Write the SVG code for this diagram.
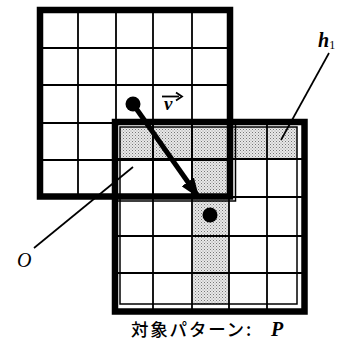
<svg xmlns="http://www.w3.org/2000/svg" width="349" height="349" viewBox="0 0 349 349">
<defs>
<pattern id="dots" width="3" height="3" patternUnits="userSpaceOnUse">
<rect width="3" height="3" fill="#e8e8e8"/>
<rect x="0" y="0" width="1" height="1" fill="#777"/>
<rect x="1.5" y="1.5" width="1" height="1" fill="#999"/>
</pattern>
<marker id="ah" markerWidth="4" markerHeight="3" refX="3.2" refY="1.5" orient="auto" markerUnits="strokeWidth">
<path d="M0,0 L4,1.5 L0,3 Z" fill="#000"/>
</marker>
</defs>
<style>
.grid{stroke:#000;stroke-width:1.8;fill:none}
.frame{stroke:#000;stroke-width:6.5;fill:none}
.thin{stroke:#000;stroke-width:1.5;fill:none}
.shade{fill:url(#dots);stroke:none}
.lead{stroke:#000;stroke-width:1.7;fill:none}
.lbl{font-family:"Liberation Serif",serif;font-style:italic;fill:#000}
</style>
<rect width="349" height="349" fill="#fff"/>

<g id="pattern-P">
<rect class="shade" x="120" y="127" width="177" height="32"/>
<rect class="shade" x="192" y="159" width="37" height="145"/>
<path class="grid" d="M153,122V311 M192,122V311 M229,122V311 M267,122V311 M115,159H304 M115,197H304 M115,236H304 M115,273H304"/>
<rect class="thin" x="120" y="127" width="177" height="177"/>
<rect class="frame" x="115" y="122" width="189.5" height="189.5"/>
</g>

<g id="window-O">
<path class="grid" d="M78,10V197 M116,10V197 M153,10V197 M192,10V197 M40,48H230 M40,85H230 M40,123H230 M40,160H230"/>
<rect class="frame" x="40" y="10" width="190" height="186.5"/>
<path class="thin" d="M118,201H235.5V125"/>
</g>

<g id="connectors">
<path class="lead" d="M34,248L133,167"/>
<path class="lead" d="M329,53L281,140"/>
<circle cx="133" cy="104" r="7.5" fill="#000"/>
<path d="M133,104L197,195" stroke="#000" stroke-width="5" fill="none" marker-end="url(#ah)"/>
<circle cx="210" cy="215" r="7.5" fill="#000"/>
</g>

<g id="labels">
<text class="lbl" x="17" y="267" font-size="20">O</text>
<text class="lbl" x="318" y="47" font-size="20" font-weight="bold">h<tspan font-size="12" font-style="normal" font-weight="normal" dy="2">1</tspan></text>
<text class="lbl" x="164" y="110" font-size="19" font-weight="bold">v</text>
<path d="M162,96.5H179" stroke="#000" stroke-width="1.8"/>
<path d="M176,92.5L182,96.5L176,100.5" stroke="#000" stroke-width="1.8" fill="none"/>
<text x="131" y="336" font-family="'Noto Sans CJK JP','Noto Sans CJK SC',sans-serif" font-size="17.5" font-weight="500" letter-spacing="1.8" fill="#000">対象パターン<tspan x="246">:</tspan><tspan x="271" font-family="'Liberation Serif',serif" font-style="italic" font-weight="bold" font-size="20">P</tspan></text>
</g>
</svg>
